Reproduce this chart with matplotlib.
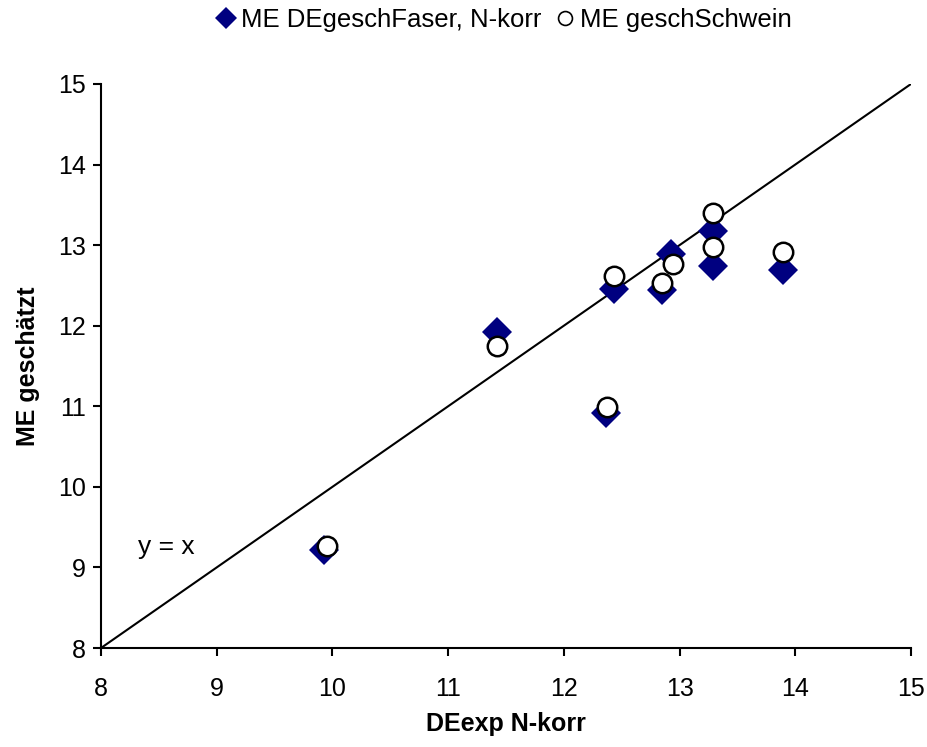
import numpy as np
import matplotlib
matplotlib.use("Agg")
import matplotlib.pyplot as plt
from matplotlib.lines import Line2D

plt.rcParams['font.family'] = ['Liberation Sans', 'DejaVu Sans']
plt.rcParams['font.size'] = 18

# ==========================================
# Data
# ==========================================
x_faser = [9.93, 11.42, 12.43, 12.36, 12.85, 12.93, 13.29, 13.29, 13.89]
y_faser = [9.22, 11.92, 12.45, 10.92, 12.44, 12.89, 13.17, 12.74, 12.69]

x_schwein = [9.95, 11.42, 12.43, 12.37, 12.85, 12.94, 13.29, 13.29, 13.89]
y_schwein = [9.27, 11.75, 12.62, 10.99, 12.53, 12.77, 13.40, 12.98, 12.91]

ticks = [8, 9, 10, 11, 12, 13, 14, 15]

# ==========================================
# Plot
# ==========================================
fig = plt.figure(figsize=(9.28, 7.47), dpi=100)
ax = fig.add_axes([0.1088, 0.1325, 0.8729, 0.7551])

ax.plot([8, 15], [8, 15], color='black', linewidth=1.5, zorder=1)
ax.text(8.32, 9.25, "y = x", fontsize=19, va='center', ha='left')

ax.plot(x_faser, y_faser, linestyle='none', marker='D', markersize=15,
        color='#000080', markeredgewidth=0, zorder=2)
ax.plot(x_schwein, y_schwein, linestyle='none', marker='o', markersize=14,
        markerfacecolor='white', markeredgecolor='black', markeredgewidth=1.8, zorder=3)

ax.set_xlim(8, 15)
ax.set_ylim(8, 15)
ax.set_xticks(ticks)
ax.set_yticks(ticks)
ax.tick_params(direction='out', length=6, width=1.5, labelsize=18)
ax.tick_params(axis='x', pad=15)
ax.tick_params(axis='y', pad=5)

for s in ['top', 'right']:
    ax.spines[s].set_visible(False)
for s in ['left', 'bottom']:
    ax.spines[s].set_linewidth(1.5)

ax.set_xlabel("DEexp N-korr", fontsize=18, fontweight='bold', labelpad=8)
ax.set_ylabel("ME geschätzt", fontsize=18, fontweight='bold', labelpad=13)

handles = [
    Line2D([], [], linestyle='none', marker='D', markersize=11, color='#000080', markeredgewidth=0),
    Line2D([], [], linestyle='none', marker='o', markersize=10, markerfacecolor='white',
           markeredgecolor='black', markeredgewidth=1.2),
]
fig.legend(handles, ["ME DEgeschFaser, N-korr", "ME geschSchwein"],
           loc='center', bbox_to_anchor=(0.543, 0.973), ncol=2, frameon=False,
           fontsize=18.5, handlelength=0.8, handletextpad=0.2, columnspacing=0.5)

fig.savefig("out.png", dpi=100)
